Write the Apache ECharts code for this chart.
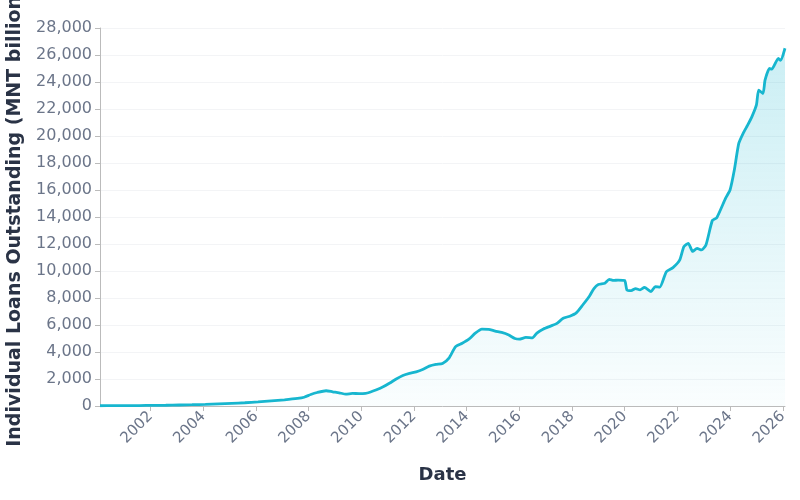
<!DOCTYPE html>
<html>
<head>
<meta charset="utf-8">
<script src="https://cdn.jsdelivr.net/npm/echarts@6/dist/echarts.min.js"></script>
<style>
  html, body { margin: 0; padding: 0; background: #fff; }
  #chart { width: 800px; height: 500px; }
</style>
</head>
<body>
<div id="chart"></div>
<script>
// month-end dates and outstanding individual loans (MNT billion)
const dates = [
  '2000-01-31', '2000-07-31', '2001-01-31', '2001-07-31', '2002-01-31', '2002-07-31',
  '2003-01-31', '2003-07-31', '2004-01-31', '2004-07-31', '2005-01-31', '2005-07-31',
  '2006-01-31', '2006-07-31', '2007-01-31', '2007-07-31', '2007-10-31', '2008-01-31',
  '2008-04-30', '2008-08-31', '2008-11-30', '2009-02-28', '2009-05-31', '2009-08-31',
  '2009-11-30', '2010-02-28', '2010-04-30', '2010-07-31', '2010-10-31', '2011-01-31',
  '2011-04-30', '2011-07-31', '2011-10-31', '2012-01-31', '2012-04-30', '2012-07-31',
  '2012-10-31', '2013-01-31', '2013-04-30', '2013-07-31', '2013-10-31', '2014-01-31',
  '2014-04-30', '2014-07-31', '2014-10-31', '2015-01-31', '2015-04-30', '2015-07-31',
  '2015-10-31', '2015-12-31', '2016-03-31', '2016-06-30', '2016-08-31', '2016-11-30',
  '2017-02-28', '2017-05-31', '2017-08-31', '2017-11-30', '2018-02-28', '2018-05-31',
  '2018-08-31', '2018-10-31', '2018-12-31', '2019-03-31', '2019-05-31', '2019-07-31',
  '2019-09-30', '2019-12-31', '2020-01-31', '2020-03-31', '2020-05-31', '2020-07-31',
  '2020-09-30', '2020-12-31', '2021-02-28', '2021-04-30', '2021-07-31', '2021-10-31',
  '2022-01-31', '2022-03-31', '2022-05-31', '2022-07-31', '2022-09-30', '2022-11-30',
  '2023-01-31', '2023-04-30', '2023-06-30', '2023-10-31', '2023-12-31', '2024-02-29',
  '2024-04-30', '2024-06-30', '2024-08-31', '2024-10-31', '2024-12-31', '2025-01-31',
  '2025-03-31', '2025-04-30', '2025-06-30', '2025-07-31', '2025-10-31', '2025-11-30',
  '2026-01-31'
];
const loans = [
  20, 25, 30, 35, 45, 55,
  75, 95, 120, 160, 200, 240,
  300, 380, 460, 560, 650, 850,
  1000, 1130, 1050, 980, 880, 930,
  920, 940, 1020, 1200, 1420, 1700,
  2000, 2260, 2420, 2530, 2700, 2950,
  3080, 3150, 3550, 4400, 4650, 4950,
  5400, 5700, 5680, 5550, 5450, 5280,
  5000, 4950, 5080, 5050, 5400, 5700,
  5900, 6100, 6500, 6650, 6900, 7500,
  8150, 8700, 9000, 9100, 9380, 9300,
  9330, 9300, 8600, 8550, 8700, 8600,
  8780, 8480, 8850, 8800, 9950, 10250,
  10800, 11800, 12050, 11450, 11680, 11560,
  11930, 13750, 13950, 15400, 16000, 17500,
  19450, 20200, 20800, 21450, 22300, 23400,
  23150, 24150, 25000, 24950, 25750, 25600,
  26500
];

const chart = echarts.init(document.getElementById('chart'));
const font = 'DejaVu Sans';
const labelColor = '#6b7589';
const nameColor = '#2a3346';
const DAY = 24 * 3600 * 1000;

const option = {
  animation: false,
  textStyle: { fontFamily: font },
  grid: { left: 100, right: 15, top: 28, bottom: 94, containLabel: false, outerBoundsMode: 'none' },
  xAxis: {
    type: 'time',
    min: 'dataMin',
    max: 'dataMax',
    minInterval: 700 * DAY,
    maxInterval: 740 * DAY,
    name: 'Date',
    nameLocation: 'middle',
    nameGap: 60,
    nameTextStyle: { fontSize: 18, fontWeight: 'bold', color: nameColor, fontFamily: font },
    axisLine: { lineStyle: { color: '#bbbbbb' } },
    axisTick: { show: true, lineStyle: { color: '#bbbbbb' } },
    axisLabel: {
      rotate: 45,
      fontSize: 15,
      color: labelColor,
      fontFamily: font,
      formatter: function (v) { return String(new Date(v).getFullYear()); }
    },
    splitLine: { show: false }
  },
  yAxis: {
    type: 'value',
    min: 0,
    max: 28000,
    interval: 2000,
    name: 'Individual Loans Outstanding (MNT billion)',
    nameLocation: 'middle',
    nameGap: 75,
    nameTextStyle: { fontSize: 19, fontWeight: 'bold', color: nameColor, fontFamily: font },
    axisLine: { show: true, lineStyle: { color: '#bbbbbb' } },
    axisTick: { show: true, lineStyle: { color: '#bbbbbb' } },
    axisLabel: {
      fontSize: 16,
      color: labelColor,
      fontFamily: font,
      formatter: function (v) { return v.toLocaleString('en-US'); }
    },
    splitLine: { lineStyle: { color: '#f3f4f6' } }
  },
  series: [
    {
      type: 'line',
      data: dates.map((d, i) => [d, loans[i]]),
      showSymbol: false,
      smooth: 0.2,
      lineStyle: { color: '#17b6cf', width: 2.8 },
      itemStyle: { color: '#17b6cf' },
      areaStyle: {
        color: new echarts.graphic.LinearGradient(0, 0, 0, 1, [
          { offset: 0, color: 'rgba(23,182,207,0.32)' },
          { offset: 1, color: 'rgba(23,182,207,0.03)' }
        ])
      }
    }
  ]
};
chart.setOption(option);
</script>
</body>
</html>
